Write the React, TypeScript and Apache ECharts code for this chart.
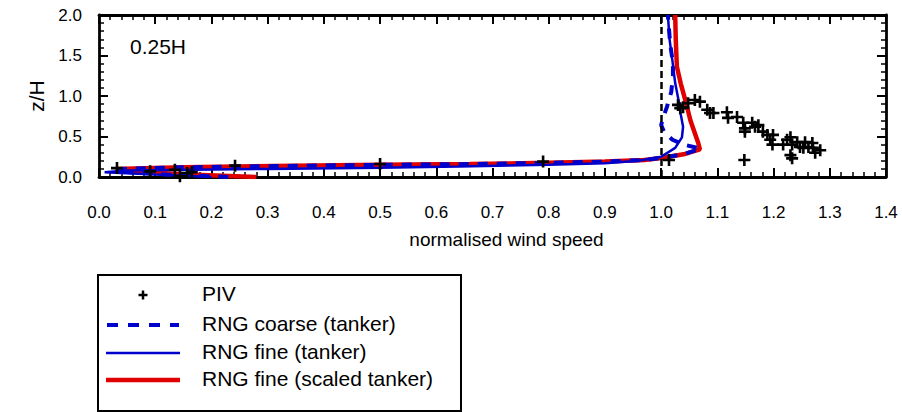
import React, { useEffect, useRef } from "react";
import * as echarts from "echarts";

// ---- data (normalised wind speed, z/H) ----
const xTicks = [0, 1.4, 0.1];
const yTicks = [0, 2.0, 0.5];

const pivPoints: [number, number][] = [
  [0.032, 0.11], [0.091, 0.07], [0.135, 0.09], [0.144, 0.01], [0.157, 0.05], [0.165, 0.06],
  [0.242, 0.14], [0.5, 0.16], [0.79, 0.19], [1.014, 0.21], [1.148, 0.21],
  [1.03, 0.89], [1.034, 0.85], [1.039, 0.86], [1.048, 0.91], [1.06, 0.95], [1.069, 0.93],
  [1.082, 0.83], [1.087, 0.79], [1.093, 0.79], [1.117, 0.8], [1.119, 0.73], [1.135, 0.74],
  [1.146, 0.67], [1.149, 0.6], [1.149, 0.56], [1.162, 0.67], [1.167, 0.62], [1.173, 0.64],
  [1.181, 0.56], [1.189, 0.52], [1.194, 0.46], [1.198, 0.4], [1.199, 0.52], [1.217, 0.4],
  [1.224, 0.46], [1.23, 0.49], [1.233, 0.4], [1.23, 0.27], [1.233, 0.23], [1.242, 0.43],
  [1.247, 0.37], [1.253, 0.36], [1.256, 0.43], [1.262, 0.37], [1.269, 0.42], [1.27, 0.36],
  [1.274, 0.3], [1.283, 0.33],
];

const rngCoarse: [number, number][] = [
  [0.23, 0.0], [0.12, 0.03], [0.03, 0.07], [0.04, 0.1], [0.15, 0.12], [0.31, 0.135],
  [0.5, 0.15], [0.66, 0.16], [0.8, 0.175], [0.9, 0.19], [0.97, 0.21], [1.0, 0.235],
  [1.04, 0.28], [1.07, 0.35], [1.04, 0.4], [1.02, 0.46], [1.005, 0.56], [1.0, 0.64],
  [1.003, 0.72], [1.01, 0.86], [1.018, 1.05], [1.021, 1.25], [1.021, 1.4], [1.016, 1.65],
  [1.012, 2.0],
];

const rngFine: [number, number][] = [
  [0.2, 0.0], [0.1, 0.03], [0.01, 0.06], [0.05, 0.08], [0.3, 0.1], [0.5, 0.115],
  [0.64, 0.13], [0.8, 0.15], [0.9, 0.17], [0.96, 0.2], [1.0, 0.25], [1.025, 0.36],
  [1.037, 0.49], [1.039, 0.62], [1.035, 0.77], [1.032, 0.91], [1.025, 1.16], [1.02, 1.44],
  [1.015, 1.7], [1.012, 2.0],
];

const rngFineScaled: [number, number][] = [
  [0.28, 0.0], [0.16, 0.03], [0.05, 0.07], [0.03, 0.1], [0.15, 0.12], [0.31, 0.135],
  [0.5, 0.15], [0.66, 0.16], [0.8, 0.175], [0.9, 0.19], [0.97, 0.21], [1.0, 0.235],
  [1.04, 0.28], [1.069, 0.34], [1.066, 0.42], [1.06, 0.54], [1.052, 0.7], [1.043, 0.95],
  [1.035, 1.15], [1.028, 1.36], [1.026, 1.7], [1.025, 2.0],
];

const refSpeed = [1.0];

const legendNames = ["PIV", "RNG coarse (tanker)", "RNG fine (tanker)", "RNG fine (scaled tanker)"];
const panelLabel = "0.25H";

const BLUE = "#0000cc";
const RED = "#e00000";
const FONT = "'Liberation Sans', Arial, sans-serif";
const PLUS = "path://M4.7,0H7.3V4.7H12V7.3H7.3V12H4.7V7.3H0V4.7H4.7Z";

function axisBase(showLabels: boolean, position: string, isX: boolean) {
  return {
    type: "value",
    position,
    min: isX ? xTicks[0] : yTicks[0],
    max: isX ? xTicks[1] : yTicks[1],
    interval: isX ? xTicks[2] : yTicks[2],
    axisLine: { show: true, onZero: false, lineStyle: { color: "#000", width: 2.8 } },
    axisTick: { show: true, inside: true, length: 9, lineStyle: { color: "#000", width: 2 } },
    minorTick: { show: true, splitNumber: 5, length: 5, lineStyle: { color: "#000", width: 1.5 } },
    splitLine: { show: false },
    minorSplitLine: { show: false },
    axisLabel: {
      show: showLabels,
      color: "#000",
      fontSize: 17,
      fontFamily: FONT,
      margin: isX ? 27 : 17,
      formatter: (v: number) => v.toFixed(1),
    },
  };
}

export default function App() {
  const ref = useRef<HTMLDivElement>(null);
  useEffect(() => {
    if (!ref.current) return;
    const chart = echarts.init(ref.current, undefined, { renderer: "svg" });
    const rowY = [295, 325, 353, 380];
    const option: any = {
      animation: false,
      backgroundColor: "#fff",
      textStyle: { fontFamily: FONT },
      grid: { left: 99, right: 16, top: 15, bottom: 235, containLabel: false },
      xAxis: [
        {
          ...axisBase(true, "bottom", true),
          name: "normalised wind speed",
          nameLocation: "middle",
          nameGap: 53,
          nameTextStyle: { color: "#000", fontSize: 19, fontFamily: FONT, padding: [0, 0, 0, 28] },
        },
        axisBase(false, "top", true),
      ],
      yAxis: [
        {
          ...axisBase(true, "left", false),
          name: "z/H",
          nameLocation: "middle",
          nameGap: 52,
          nameRotate: 90,
          nameTextStyle: { color: "#000", fontSize: 21, fontFamily: FONT },
        },
        axisBase(false, "right", false),
      ],
      series: [
        {
          name: legendNames[3],
          type: "line",
          data: rngFineScaled,
          symbol: "none",
          lineStyle: { color: RED, width: 4.5 },
          z: 2,
        },
        {
          name: legendNames[1],
          type: "line",
          data: rngCoarse,
          symbol: "none",
          lineStyle: { color: BLUE, width: 4, type: [10, 9] },
          z: 3,
        },
        {
          name: legendNames[2],
          type: "line",
          data: rngFine,
          symbol: "none",
          lineStyle: { color: BLUE, width: 2.5 },
          z: 4,
        },
        {
          name: legendNames[0],
          type: "scatter",
          data: pivPoints,
          symbol: PLUS,
          symbolSize: 12,
          itemStyle: { color: "#000", opacity: 1 },
          z: 5,
          markLine: {
            silent: true,
            symbol: "none",
            label: { show: false },
            lineStyle: { color: "#000", width: 2.5, type: [7, 4], opacity: 1 },
            data: refSpeed.map((v) => ({ xAxis: v })),
          },
        },
      ],
      graphic: [
        {
          type: "text",
          left: 130,
          top: 36,
          style: { text: panelLabel, fontSize: 21, fontFamily: FONT, fill: "#000" },
        },
        {
          type: "rect",
          shape: { x: 98, y: 275, width: 363, height: 136 },
          style: { fill: "none", stroke: "#000", lineWidth: 2 },
        },
        // PIV legend marker
        {
          type: "line",
          shape: { x1: 138.5, y1: rowY[0], x2: 147.5, y2: rowY[0] },
          style: { stroke: "#000", lineWidth: 2.5 },
        },
        {
          type: "line",
          shape: { x1: 143, y1: rowY[0] - 4.5, x2: 143, y2: rowY[0] + 4.5 },
          style: { stroke: "#000", lineWidth: 2.5 },
        },
        {
          type: "line",
          shape: { x1: 107, y1: rowY[1], x2: 179, y2: rowY[1] },
          style: { stroke: BLUE, lineWidth: 4, lineDash: [11, 10] },
        },
        {
          type: "line",
          shape: { x1: 106, y1: rowY[2], x2: 180, y2: rowY[2] },
          style: { stroke: BLUE, lineWidth: 2.5 },
        },
        {
          type: "line",
          shape: { x1: 106, y1: rowY[3], x2: 180, y2: rowY[3] },
          style: { stroke: RED, lineWidth: 4.5 },
        },
        ...legendNames.map((n, i) => ({
          type: "text",
          left: 202,
          top: rowY[i] - 12,
          style: { text: n, fontSize: 21, fontFamily: FONT, fill: "#000" },
        })),
      ],
    };
    chart.setOption(option);
    return () => chart.dispose();
  }, []);
  return (
    <div
      ref={ref}
      style={{ position: "fixed", left: 0, top: 0, width: 902, height: 412 }}
    />
  );
}
